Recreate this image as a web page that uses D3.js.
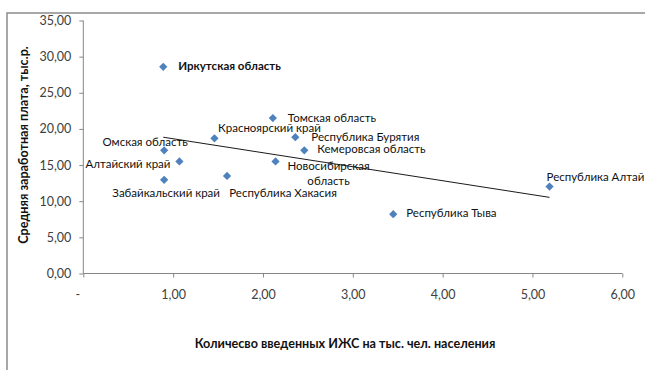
<!DOCTYPE html>
<html><head><meta charset="utf-8">
<script src="https://cdn.jsdelivr.net/npm/d3@7"></script>
<style>body{margin:0;background:#fff;} svg{display:block;}</style>
</head><body>
<svg id="c" width="645" height="370"></svg>
<script>
const regions = ["Иркутская область","Омская область","Алтайский край","Забайкальский край","Красноярский край","Республика Хакасия","Томская область","Новосибирская область","Республика Бурятия","Кемеровсая область","Республика Тыва","Республика Алтай"];
const housing = [0.89,0.90,1.07,0.90,1.46,1.60,2.11,2.14,2.36,2.46,3.45,5.19];
const salary = [28.6,17.05,15.5,12.96,18.7,13.5,21.5,15.5,18.85,17.05,8.2,12.03];
const xTicks = [0,1,2,3,4,5,6];
const yTicks = [0,5,10,15,20,25,30,35];
const xTitle = "Количесво введенных ИЖС на тыс. чел. населения";
const yTitle = "Средняя заработная плата, тыс.р.";

// label layout (offsets relative to point, px)
const labelPos = {
  "Иркутская область": {dx:15, dy:0, anchor:"start", bold:true},
  "Омская область": {dx:-19, dy:-7, anchor:"middle"},
  "Алтайский край": {dx:-9, dy:4, anchor:"end"},
  "Забайкальский край": {dx:2, dy:14, anchor:"middle"},
  "Красноярский край": {dx:55, dy:-9, anchor:"middle"},
  "Республика Хакасия": {dx:56, dy:18, anchor:"middle"},
  "Томская область": {dx:15, dy:1, anchor:"start"},
  "Новосибирская область": {dx:53, dy:6, anchor:"middle", lines:["Новосибирская","область"]},
  "Республика Бурятия": {dx:16, dy:1, anchor:"start"},
  "Кемеровсая область": {dx:13, dy:0, anchor:"start"},
  "Республика Тыва": {dx:13, dy:0, anchor:"start"},
  "Республика Алтай": {dx:-3, dy:-8, anchor:"start"}
};

const svg = d3.select("#c");
const font = "Lato, 'Open Sans', sans-serif";

// outer chart border
svg.append("rect").attr("x",7).attr("y",13).attr("width",700).attr("height",400)
  .attr("fill","#fff").attr("stroke","#8c8c8c").attr("stroke-width",1.5);

const x = d3.scaleLinear().domain([0,6]).range([83.3,622.3]);
const y = d3.scaleLinear().domain([0,35]).range([273.5,20.5]);

const fmt = v => v===0 ? "-" : d3.format(".2f")(v).replace(".",",");
const fmtY = v => d3.format(".2f")(v).replace(".",",");

// y axis
const yAx = svg.append("g").attr("transform",`translate(${x(0)},0)`)
  .call(d3.axisLeft(y).tickValues(yTicks).tickFormat(fmtY).tickSize(4).tickPadding(8));
yAx.select(".domain").attr("stroke","#868686").attr("d",`M-0,${y(35)}V${y(0)}`);
yAx.selectAll(".tick line").attr("stroke","#868686");
yAx.selectAll(".tick text").attr("fill","#404040").style("font-family",font).style("font-size","12.5px");

// x axis
const xAx = svg.append("g").attr("transform",`translate(0,${y(0)})`)
  .call(d3.axisBottom(x).tickValues(xTicks).tickFormat(fmt).tickSize(4).tickPadding(13));
xAx.select(".domain").attr("stroke","#868686").attr("d",`M${x(0)},0H${x(6)}`);
xAx.selectAll(".tick line").attr("stroke","#868686");
xAx.selectAll(".tick text").attr("fill","#404040").style("font-family",font).style("font-size","12.5px");
xAx.selectAll(".tick").filter(d=>d===0).select("text").attr("dx",-6);

// trend line (least squares)
const n = housing.length;
const mx = d3.mean(housing), my = d3.mean(salary);
let sxy=0, sxx=0;
for(let i=0;i<n;i++){ sxy += (housing[i]-mx)*(salary[i]-my); sxx += (housing[i]-mx)**2; }
const slope = sxy/sxx, intercept = my - slope*mx;
const x0 = d3.min(housing), x1 = d3.max(housing);
svg.append("line")
  .attr("x1",x(x0)).attr("y1",y(intercept+slope*x0))
  .attr("x2",x(x1)).attr("y2",y(intercept+slope*x1))
  .attr("stroke","#1a1a1a").attr("stroke-width",1);

// points
const sym = d3.symbol().type(d3.symbolSquare).size(34);
svg.append("g").selectAll("path").data(regions).join("path")
  .attr("d", sym())
  .attr("transform",(d,i)=>`translate(${x(housing[i])},${y(salary[i])}) rotate(45)`)
  .attr("fill","#4F81BD");

// labels
const lg = svg.append("g").style("font-family",font).style("font-size","11.5px").attr("fill","#111");
regions.forEach((r,i)=>{
  const p = labelPos[r];
  const t = lg.append("text")
    .attr("x", x(housing[i])+p.dx).attr("y", y(salary[i])+p.dy)
    .attr("text-anchor",p.anchor).attr("dominant-baseline","middle")
    .style("font-weight", p.bold ? "bold" : "normal");
  if(p.lines){
    p.lines.forEach((l,k)=>t.append("tspan").attr("x",x(housing[i])+p.dx).attr("dy",k===0?0:15).text(l));
  } else t.text(r);
});

// axis titles
svg.append("text").attr("x",345).attr("y",345).attr("text-anchor","middle").attr("dominant-baseline","middle")
  .style("font-family",font).style("font-size","12.6px").style("font-weight","bold").attr("fill","#111").text(xTitle);
svg.append("text").attr("transform","translate(25,145) rotate(-90)").attr("text-anchor","middle").attr("dominant-baseline","middle")
  .style("font-family",font).style("font-size","12.6px").style("font-weight","bold").attr("fill","#111").text(yTitle);
</script>
</body></html>
